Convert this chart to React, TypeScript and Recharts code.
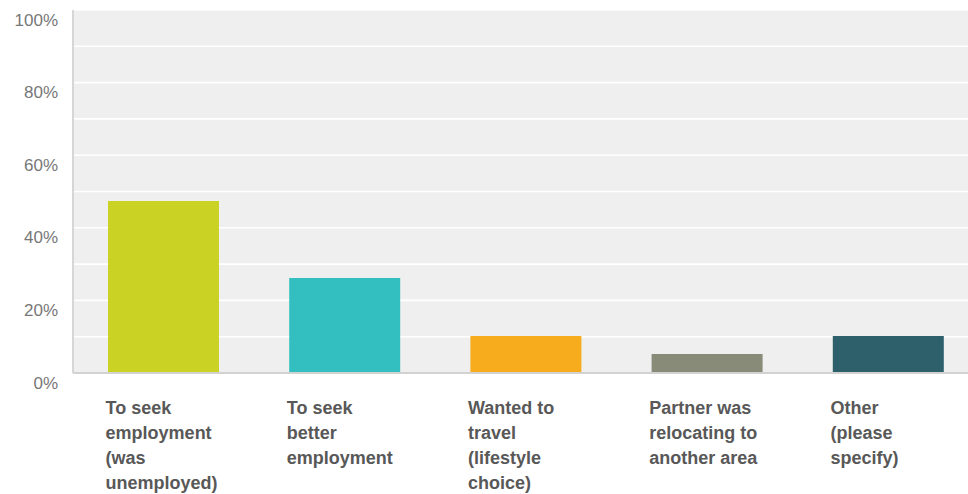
import React from "react";
import { BarChart, Bar, XAxis, YAxis, CartesianGrid, Cell } from "recharts";

const categories = [
  "To seek employment (was unemployed)",
  "To seek better employment",
  "Wanted to travel (lifestyle choice)",
  "Partner was relocating to another area",
  "Other (please specify)",
];
const labelLines = [
  ["To seek", "employment", "(was", "unemployed)"],
  ["To seek", "better", "employment"],
  ["Wanted to", "travel", "(lifestyle", "choice)"],
  ["Partner was", "relocating to", "another area"],
  ["Other", "(please", "specify)"],
];
const values = [47.4, 26.2, 10.2, 5.2, 10.2];
const colors = ["#cad323", "#33bfbf", "#f6ac1c", "#898b79", "#2e606c"];
const gridTicks = [0, 10, 20, 30, 40, 50, 60, 70, 80, 90, 100];
const labeledTicks = [0, 20, 40, 60, 80, 100];

const data = categories.map((c, i) => ({ name: c, value: values[i], idx: i }));

const YTick = (props: any) => {
  const { y, payload } = props;
  if (!labeledTicks.includes(payload.value)) return null;
  return (
    <text
      x={58}
      y={y + 10}
      textAnchor="end"
      dominantBaseline="central"
      fontFamily="Liberation Sans, Arial, sans-serif"
      fontSize={17}
      fill="#777"
    >
      {payload.value + "%"}
    </text>
  );
};

const XTick = (props: any) => {
  const { x, y, payload } = props;
  const lines = labelLines[payload.index] || [String(payload.value)];
  return (
    <g>
      {lines.map((l: string, i: number) => (
        <text
          key={i}
          x={x - 58}
          y={y + 33 + i * 25}
          textAnchor="start"
          fontFamily="Liberation Sans, Arial, sans-serif"
          fontSize={18}
          fontWeight={700}
          fill="#585858"
        >
          {l}
        </text>
      ))}
    </g>
  );
};

export default function App() {
  return (
    <div
      style={{
        position: "absolute",
        left: 0,
        top: 0,
        width: 968,
        height: 494,
        overflow: "hidden",
        background: "#fff",
      }}
    >
      <BarChart
        width={979}
        height={494}
        data={data}
        margin={{ top: 10, right: 0, left: 0, bottom: 0 }}
        barSize={111}
      >
        <CartesianGrid
          vertical={false}
          stroke="#ffffff"
          strokeWidth={1.6}
          fill="#efefef"
        />
        <XAxis
          dataKey="name"
          axisLine={{ stroke: "#d2d2d2", strokeWidth: 2 }}
          tickLine={false}
          interval={0}
          tick={<XTick />}
          height={121}
        />
        <YAxis
          domain={[0, 100]}
          ticks={gridTicks}
          width={73}
          axisLine={{ stroke: "#d6d6d6", strokeWidth: 2 }}
          tickLine={false}
          tick={<YTick />}
          interval={0}
        />
        <Bar dataKey="value" isAnimationActive={false}>
          {data.map((d, i) => (
            <Cell key={i} fill={colors[i]} />
          ))}
        </Bar>
      </BarChart>
    </div>
  );
}
